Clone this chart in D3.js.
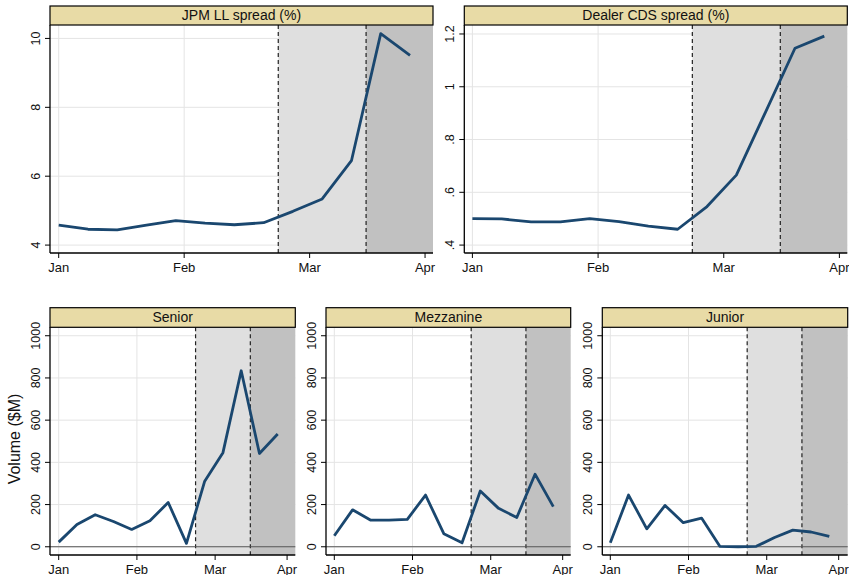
<!DOCTYPE html>
<html>
<head>
<meta charset="utf-8">
<script src="https://cdn.jsdelivr.net/npm/d3@7"></script>
<style>
  body { margin: 0; background: #fff; }
  text { font-family: "Liberation Sans", Arial, Helvetica, sans-serif; fill: #111; }
</style>
</head>
<body>
<script>
// weekly observations, x in days since Jan 1
var days = [0, 7, 14, 21, 28, 35, 42, 49, 56, 63, 70, 77, 84];
var monthTicks = [0, 30, 60, 87.6];
var monthLabels = ["Jan", "Feb", "Mar", "Apr"];
var eventDays = [52.5, 73.5];

var jpmSpread = [4.58, 4.46, 4.44, 4.58, 4.71, 4.64, 4.59, 4.65, 4.98, 5.34, 6.45, 10.14, 9.51];
var dealerCds = [0.50, 0.499, 0.488, 0.488, 0.50, 0.489, 0.472, 0.46, 0.546, 0.665, 0.905, 1.146, 1.192];
var senior = [22, 106, 152, 120, 82, 123, 210, 16, 311, 446, 834, 442, 534];
var mezzanine = [52, 175, 126, 126, 130, 245, 62, 19, 264, 182, 139, 344, 190];
var junior = [19, 245, 85, 196, 114, 136, 2, 0, 2, 44, 79, 70, 49];

var spreadTicks = [4, 6, 8, 10];
var cdsTicks = [0.4, 0.6, 0.8, 1, 1.2];
var volumeTicks = [0, 200, 400, 600, 800, 1000];

var W = 849, H = 575;
var svg = d3.select("body").append("svg")
    .attr("width", W)
    .attr("height", H);

var lineColor = "#1a476f";

var panels = [
  {title: "JPM LL spread (%)", values: jpmSpread, ticks: spreadTicks, domain: [3.77, 10.39],
   x0: 50, x1: 433, hTop: 6, top: 25, bottom: 253, padL: 8.7, padR: 23, zero: false},
  {title: "Dealer CDS spread (%)", values: dealerCds, ticks: cdsTicks, domain: [0.37, 1.234],
   x0: 464.3, x1: 847.3, hTop: 6, top: 25, bottom: 253, padL: 8.1, padR: 23, zero: false},
  {title: "Senior", values: senior, ticks: volumeTicks, domain: [-39, 1040],
   x0: 50, x1: 295.3, hTop: 307.7, top: 327.3, bottom: 555, padL: 8.7, padR: 17.6, zero: true},
  {title: "Mezzanine", values: mezzanine, ticks: volumeTicks, domain: [-39, 1040],
   x0: 326, x1: 570.7, hTop: 307.7, top: 327.3, bottom: 555, padL: 8.3, padR: 17.4, zero: true},
  {title: "Junior", values: junior, ticks: volumeTicks, domain: [-39, 1040],
   x0: 602.3, x1: 847.7, hTop: 307.7, top: 327.3, bottom: 555, padL: 8.0, padR: 18.4, zero: true}
];

// stata style numbers: .4 instead of 0.4
function fmt(v) {
  return d3.format("~g")(v).replace(/^0\./, ".");
}

panels.forEach(function(p) {
  var g = svg.append("g");
  var x = d3.scaleLinear()
      .domain([0, 84])
      .range([p.x0 + p.padL, p.x1 - p.padR]);
  var y = d3.scaleLinear()
      .domain(p.domain)
      .range([p.bottom, p.top]);

  // grid
  g.selectAll(".hgrid")
    .data(p.ticks)
    .enter()
    .append("line")
    .attr("x1", p.x0).attr("x2", p.x1)
    .attr("y1", function(d){ return y(d); })
    .attr("y2", function(d){ return y(d); })
    .style("stroke", "#e4e4e4")
    .style("stroke-width", 1);
  g.selectAll(".vgrid")
    .data(monthTicks.filter(function(d){ return x(d) < p.x1; }))
    .enter()
    .append("line")
    .attr("x1", function(d){ return x(d); })
    .attr("x2", function(d){ return x(d); })
    .attr("y1", p.top).attr("y2", p.bottom)
    .style("stroke", "#e4e4e4")
    .style("stroke-width", 1);

  // shaded periods
  g.append("rect")
    .attr("x", x(eventDays[0]))
    .attr("y", p.top)
    .attr("width", x(eventDays[1]) - x(eventDays[0]))
    .attr("height", p.bottom - p.top)
    .style("fill", "#dfdfdf");
  g.append("rect")
    .attr("x", x(eventDays[1]))
    .attr("y", p.top)
    .attr("width", p.x1 - x(eventDays[1]))
    .attr("height", p.bottom - p.top)
    .style("fill", "#c1c1c1");

  g.selectAll(".event")
    .data(eventDays)
    .enter()
    .append("line")
    .attr("x1", function(d){ return x(d); })
    .attr("x2", function(d){ return x(d); })
    .attr("y1", p.top).attr("y2", p.bottom)
    .style("stroke", "#222")
    .style("stroke-width", 1.2)
    .style("stroke-dasharray", "4,3");

  if (p.zero) {
    g.append("line")
      .attr("x1", p.x0).attr("x2", p.x1)
      .attr("y1", y(0)).attr("y2", y(0))
      .style("stroke", "#555")
      .style("stroke-width", 1.2);
  }

  // series
  var line = d3.line()
      .x(function(d, i){ return x(days[i]); })
      .y(function(d){ return y(d); });
  g.append("path")
    .datum(p.values)
    .attr("d", line)
    .style("fill", "none")
    .style("stroke", lineColor)
    .style("stroke-width", 2.8)
    .style("stroke-linejoin", "round");

  // axes
  g.append("line")
    .attr("x1", p.x0).attr("x2", p.x0)
    .attr("y1", p.top).attr("y2", p.bottom)
    .style("stroke", "#000").style("stroke-width", 1.3);
  g.append("line")
    .attr("x1", p.x0).attr("x2", p.x1)
    .attr("y1", p.bottom).attr("y2", p.bottom)
    .style("stroke", "#000").style("stroke-width", 1.3);

  g.selectAll(".ytick")
    .data(p.ticks)
    .enter()
    .append("line")
    .attr("x1", p.x0 - 5).attr("x2", p.x0)
    .attr("y1", function(d){ return y(d); })
    .attr("y2", function(d){ return y(d); })
    .style("stroke", "#000");
  g.selectAll(".ylab")
    .data(p.ticks)
    .enter()
    .append("text")
    .attr("transform", function(d){
      return "translate(" + (p.x0 - 10) + "," + y(d) + ") rotate(-90)";
    })
    .attr("text-anchor", "middle")
    .style("font-size", "12.5px")
    .text(fmt);

  g.selectAll(".xtick")
    .data(monthTicks)
    .enter()
    .append("line")
    .attr("x1", function(d){ return x(d); })
    .attr("x2", function(d){ return x(d); })
    .attr("y1", p.bottom).attr("y2", p.bottom + 5)
    .style("stroke", "#000");
  g.selectAll(".xlab")
    .data(monthTicks)
    .enter()
    .append("text")
    .attr("x", function(d){ return x(d); })
    .attr("y", p.bottom + 18.5)
    .attr("text-anchor", "middle")
    .style("font-size", "13px")
    .text(function(d, i){ return monthLabels[i]; });

  // header strip
  g.append("rect")
    .attr("x", p.x0)
    .attr("y", p.hTop)
    .attr("width", p.x1 - p.x0)
    .attr("height", p.top - p.hTop)
    .style("fill", "#e8dba6")
    .style("stroke", "#000")
    .style("stroke-width", 1.2);
  g.append("text")
    .attr("x", (p.x0 + p.x1) / 2)
    .attr("y", p.top - 5)
    .attr("text-anchor", "middle")
    .style("font-size", "14px")
    .text(p.title);
});

svg.append("text")
  .attr("transform", "translate(20,439) rotate(-90)")
  .attr("text-anchor", "middle")
  .style("font-size", "16px")
  .text("Volume ($M)");
</script>
</body>
</html>
